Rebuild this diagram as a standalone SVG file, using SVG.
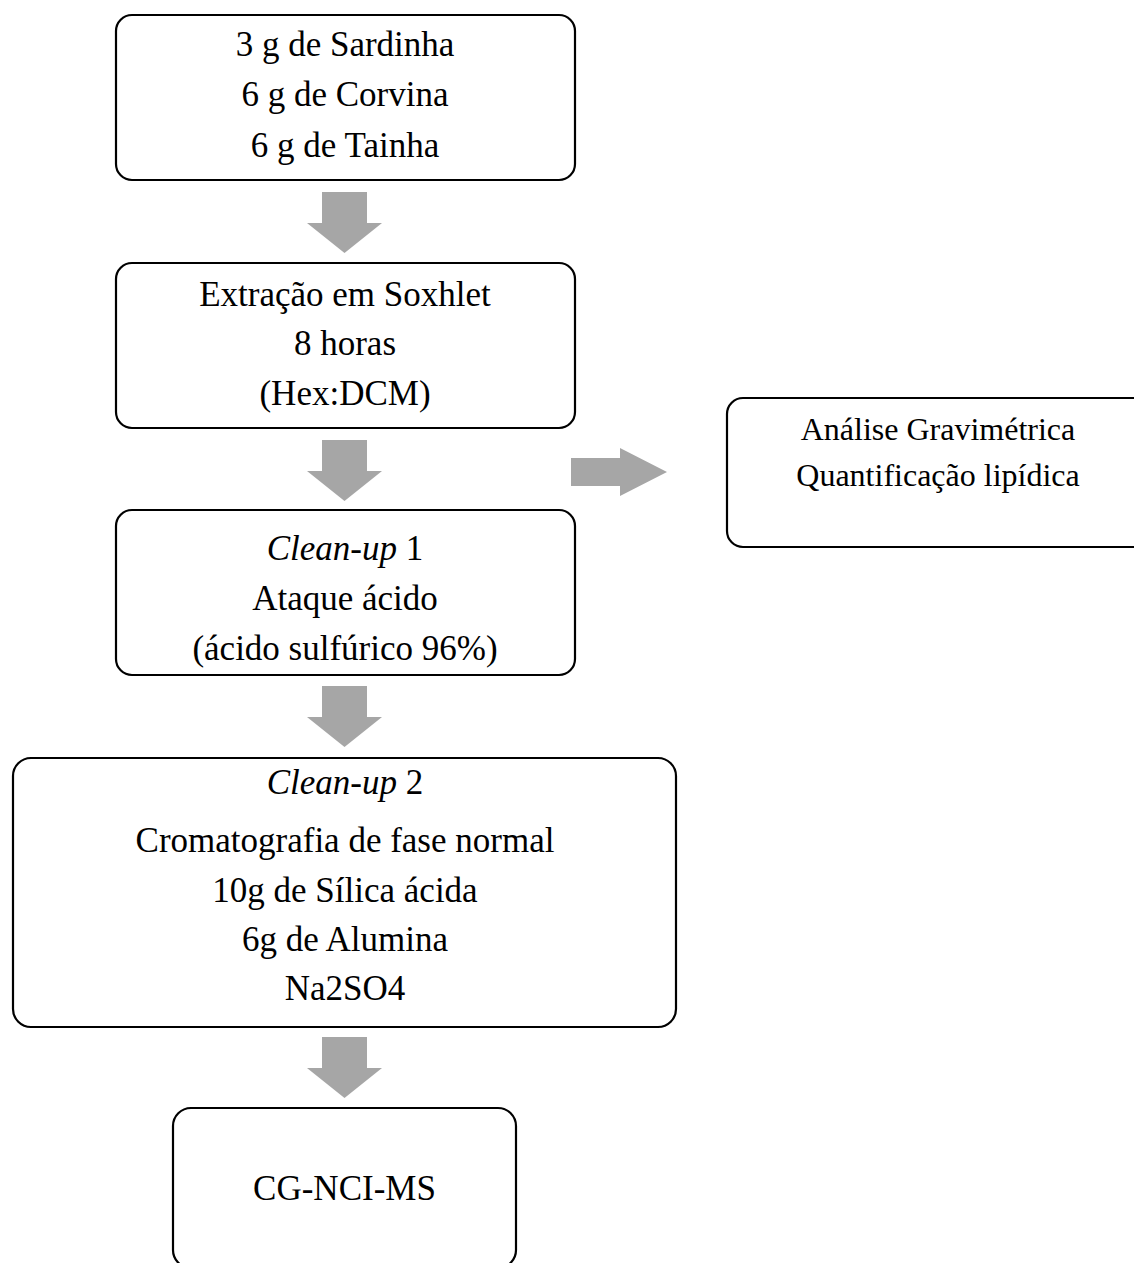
<svg xmlns="http://www.w3.org/2000/svg" width="1134" height="1263" viewBox="0 0 1134 1263">
<style>
.box{fill:#ffffff;stroke:#000000;stroke-width:2.2}
.arr{fill:#a6a6a6}
text{font-family:"Liberation Serif","Times New Roman",serif;font-size:35px;fill:#000000;text-anchor:middle}
.sm{font-size:32px}
.it{font-style:italic}
</style>
<rect width="1134" height="1263" fill="#ffffff"/>
<g id="connectors">
<polygon class="arr" points="322,192 367,192 367,223 382,223 344.5,253 307,223 322,223"/>
<polygon class="arr" points="322,440 367,440 367,471 382,471 344.5,501 307,471 322,471"/>
<polygon class="arr" points="322,686 367,686 367,717 382,717 344.5,747 307,717 322,717"/>
<polygon class="arr" points="322,1037 367,1037 367,1068 382,1068 344.5,1098 307,1068 322,1068"/>
<polygon class="arr" points="571,458 620,458 620,448 667,472 620,496 620,486 571,486"/>
</g>
<g id="node-amostras">
<rect class="box" x="116" y="15" width="459" height="165" rx="16"/>
<text x="345" y="56">3 g de Sardinha</text>
<text x="345" y="106">6 g de Corvina</text>
<text x="345" y="157">6 g de Tainha</text>
</g>
<g id="node-soxhlet">
<rect class="box" x="116" y="263" width="459" height="165" rx="16"/>
<text x="345" y="306">Extração em Soxhlet</text>
<text x="345" y="355">8 horas</text>
<text x="345" y="405">(Hex:DCM)</text>
</g>
<g id="node-cleanup1">
<rect class="box" x="116" y="510" width="459" height="165" rx="16"/>
<text x="345" y="560"><tspan class="it">Clean-up</tspan> 1</text>
<text x="345" y="610">Ataque ácido</text>
<text x="345" y="660">(ácido sulfúrico 96%)</text>
</g>
<g id="node-cleanup2">
<rect class="box" x="13" y="758" width="663" height="269" rx="18"/>
<text x="345" y="794"><tspan class="it">Clean-up</tspan> 2</text>
<text x="345" y="852">Cromatografia de fase normal</text>
<text x="345" y="902">10g de Sílica ácida</text>
<text x="345" y="951">6g de Alumina</text>
<text x="345" y="1000">Na2SO4</text>
</g>
<g id="node-cgms">
<rect class="box" x="173" y="1108" width="343" height="160" rx="18"/>
<text x="344.5" y="1200">CG-NCI-MS</text>
</g>
<g id="node-gravimetria">
<rect class="box" x="727" y="398" width="430" height="149" rx="16"/>
<text class="sm" x="938" y="440">Análise Gravimétrica</text>
<text class="sm" x="938" y="486">Quantificação lipídica</text>
</g>
</svg>
